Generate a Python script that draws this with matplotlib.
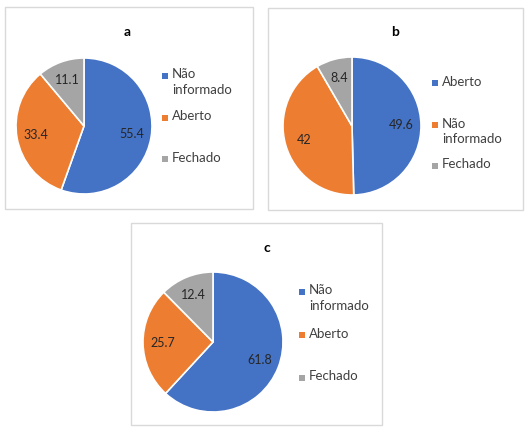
import matplotlib
matplotlib.use("Agg")
import matplotlib.pyplot as plt
from matplotlib.patches import Rectangle

W, H = 530, 437

# data
titles = ["a", "b", "c"]
labels_a = ["Não\ninformado", "Aberto", "Fechado"]
values_a = [55.4, 33.4, 11.1]
labels_b = ["Aberto", "Não\ninformado", "Fechado"]
values_b = [49.6, 42, 8.4]
labels_c = ["Não\ninformado", "Aberto", "Fechado"]
values_c = [61.8, 25.7, 12.4]
value_text_a = ["55.4", "33.4", "11.1"]
value_text_b = ["49.6", "42", "8.4"]
value_text_c = ["61.8", "25.7", "12.4"]

colors = ["#4472C4", "#ED7D31", "#A5A5A5"]

plt.rcParams['font.family'] = ['Lato', 'DejaVu Sans']

fig = plt.figure(figsize=(W / 100, H / 100), dpi=100)
fig.patch.set_facecolor("white")


def fx(x):
    return x / W


def fy(y):
    return 1 - y / H


# layout in pixels: box, pie centre + radius, title pos, legend x, legend y's
panels = [
    dict(box=(5, 7, 253, 209), c=(84, 126), r=68, t=(127, 32), lx=165,
         ly=[76, 118, 159], vals=values_a, labs=labels_a, txt=value_text_a),
    dict(box=(268, 8, 523, 210), c=(352, 126), r=69, t=(395, 32), lx=435,
         ly=[83, 125, 166], vals=values_b, labs=labels_b, txt=value_text_b),
    dict(box=(131, 223, 382, 425), c=(213, 342), r=70, t=(267, 248), lx=302,
         ly=[292, 335, 378], vals=values_c, labs=labels_c, txt=value_text_c),
]

for p, title in zip(panels, titles):
    x0, y0, x1, y1 = p["box"]
    fig.patches.append(Rectangle((fx(x0), fy(y1)), (x1 - x0) / W, (y1 - y0) / H,
                                 transform=fig.transFigure, fill=False,
                                 edgecolor="#D9D9D9", linewidth=1.0))
    cx, cy = p["c"]
    r = p["r"]
    ax = fig.add_axes([fx(cx - r), fy(cy + r), 2 * r / W, 2 * r / H])
    wedges, texts = ax.pie(p["vals"], colors=colors, startangle=90,
                           counterclock=False, labels=p["txt"],
                           labeldistance=0.72,
                           wedgeprops=dict(edgecolor="white", linewidth=1.2),
                           textprops=dict(fontsize=9, color="#262626"))
    for t in texts:
        t.set_horizontalalignment("center")
        t.set_verticalalignment("center")
    ax.set_xlim(-1, 1)
    ax.set_ylim(-1, 1)
    ax.set_aspect("auto")
    ax.axis("off")

    fig.text(fx(p["t"][0]), fy(p["t"][1]), title, ha="center", va="center",
             fontsize=10, fontweight="bold", color="#000000")

    for lab, col, yy in zip(p["labs"], colors, p["ly"]):
        fig.patches.append(Rectangle((fx(p["lx"] - 3), fy(yy + 3)), 6 / W, 6 / H,
                                     transform=fig.transFigure, facecolor=col,
                                     edgecolor="none"))
        fig.text(fx(p["lx"] + 7), fy(yy - 7.5), lab, ha="left", va="top",
                 fontsize=9.5, color="#404040", linespacing=1.35)

fig.savefig("out.png", dpi=100)
